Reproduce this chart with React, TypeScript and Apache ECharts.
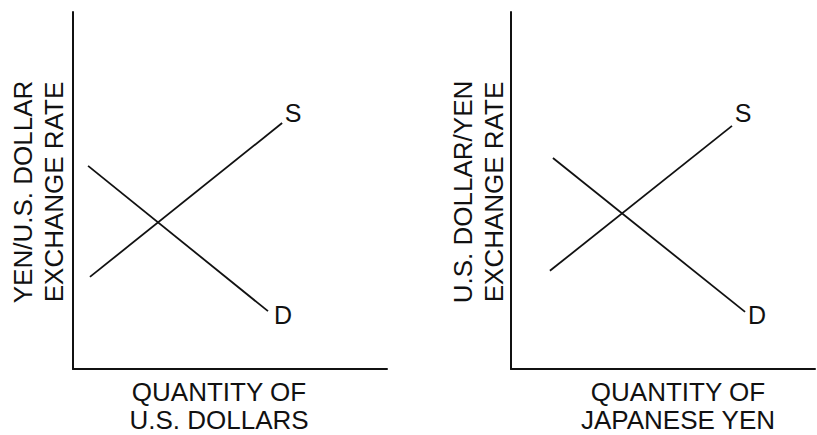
import React, { useEffect, useRef } from "react";
import * as echarts from "echarts";

// Left panel: Yen / U.S. dollar market (x, y in axis units 0..10)
const leftSupply: [number, number][] = [[0.54, 2.58], [6.66, 6.89]];
const leftDemand: [number, number][] = [[0.48, 5.69], [6.21, 1.62]];
// Right panel: U.S. dollar / Yen market
const rightSupply: [number, number][] = [[1.28, 2.75], [7.27, 6.81]];
const rightDemand: [number, number][] = [[1.38, 5.91], [7.7, 1.6]];

const curveLabels = ["S", "D"];
const yTitles = ["YEN/U.S. DOLLAR\nEXCHANGE RATE", "U.S. DOLLAR/YEN\nEXCHANGE RATE"];
const xTitles = ["QUANTITY OF\nU.S. DOLLARS", "QUANTITY OF\nJAPANESE YEN"];

const FONT = "'Liberation Sans', Arial, Helvetica, sans-serif";
const INK = "#111";

function lineSeries(data: [number, number][], idx: number) {
  return {
    type: "line",
    xAxisIndex: idx,
    yAxisIndex: idx,
    symbol: "none",
    silent: true,
    lineStyle: { color: INK, width: 1.8 },
    data,
  };
}

export default function App() {
  const ref = useRef<HTMLDivElement>(null);
  useEffect(() => {
    if (!ref.current) return;
    const chart = echarts.init(ref.current, null, { renderer: "svg" });
    const axisCommon = {
      type: "value",
      min: 0,
      max: 10,
      axisLine: { show: true, onZero: false, lineStyle: { color: INK, width: 2 } },
      axisTick: { show: false },
      axisLabel: { show: false },
      splitLine: { show: false },
    };
    const textStyle = {
      fill: INK,
      fontFamily: FONT,
      fontSize: 26,
      align: "center",
      verticalAlign: "middle",
      lineHeight: 28,
    };
    chart.setOption({
      animation: false,
      backgroundColor: "#fff",
      grid: [
        { left: 73, top: 12, width: 314, height: 357 },
        { left: 511, top: 12, width: 304, height: 357 },
      ],
      xAxis: [
        { ...axisCommon, gridIndex: 0 },
        { ...axisCommon, gridIndex: 1 },
      ],
      yAxis: [
        { ...axisCommon, gridIndex: 0 },
        { ...axisCommon, gridIndex: 1 },
      ],
      series: [
        lineSeries(leftSupply, 0),
        lineSeries(leftDemand, 0),
        lineSeries(rightSupply, 1),
        lineSeries(rightDemand, 1),
      ],
    });

    const endLabel = (
      data: [number, number][],
      grid: number,
      text: string,
      dx: number,
      dy: number
    ) => {
      const p = chart.convertToPixel({ gridIndex: grid }, data[data.length - 1]) as number[];
      return {
        type: "text",
        x: p[0] + dx,
        y: p[1] + dy,
        style: { ...textStyle, fontSize: 25, text },
      };
    };

    chart.setOption({
      graphic: [
        {
          type: "text",
          x: 38,
          y: 192,
          rotation: Math.PI / 2,
          style: { ...textStyle, text: yTitles[0], lineHeight: 31 },
        },
        {
          type: "text",
          x: 478,
          y: 192,
          rotation: Math.PI / 2,
          style: { ...textStyle, text: yTitles[1], lineHeight: 31 },
        },
        {
          type: "text",
          x: 219,
          y: 406,
          style: { ...textStyle, text: xTitles[0] },
        },
        {
          type: "text",
          x: 678,
          y: 406,
          style: { ...textStyle, text: xTitles[1] },
        },
        endLabel(leftSupply, 0, curveLabels[0], 11, -10),
        endLabel(leftDemand, 0, curveLabels[1], 15, 4),
        endLabel(rightSupply, 1, curveLabels[0], 11, -13),
        endLabel(rightDemand, 1, curveLabels[1], 12, 3),
      ],
    });
    return () => chart.dispose();
  }, []);
  return (
    <div
      ref={ref}
      style={{ position: "fixed", left: 0, top: 0, width: 817, height: 435, background: "#fff" }}
    />
  );
}
